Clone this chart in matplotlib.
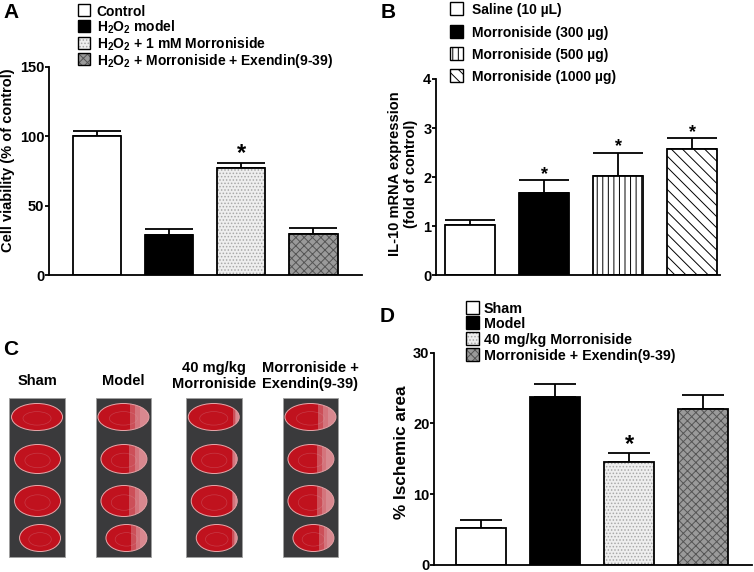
import numpy as np
import matplotlib
matplotlib.use('Agg')
import matplotlib.pyplot as plt
from matplotlib.patches import Rectangle, Ellipse

plt.rcParams['font.family'] = ['Liberation Sans', 'DejaVu Sans']
plt.rcParams['font.weight'] = 'bold'
plt.rcParams['mathtext.fontset'] = 'custom'
plt.rcParams['mathtext.bf'] = 'Liberation Sans:bold'
plt.rcParams['mathtext.rm'] = 'Liberation Sans:bold'
plt.rcParams['mathtext.default'] = 'bf'
plt.rcParams['hatch.linewidth'] = 0.7

# panel A - cell viability
a_labels = ['Control', 'H$_2$O$_2$ model', 'H$_2$O$_2$ + 1 mM Morroniside',
            'H$_2$O$_2$ + Morroniside + Exendin(9-39)']
a_means = [100, 29, 77, 29.5]
a_err = [3.7, 4.5, 4.0, 4.5]
a_stars = [False, False, True, False]
a_ticks = [0, 50, 100, 150]

# panel B - IL-10 mRNA
b_labels = ['Saline (10 µL)', 'Morroniside (300 µg)', 'Morroniside (500 µg)',
            'Morroniside (1000 µg)']
b_means = [1.03, 1.67, 2.03, 2.57]
b_err = [0.09, 0.27, 0.47, 0.22]
b_stars = [False, True, True, True]
b_ticks = [0, 1, 2, 3, 4]

# panel C - TTC slices
c_labels = ['Sham', 'Model', '40 mg/kg\nMorroniside', 'Morroniside +\nExendin(9-39)']
c_pale = [0.0, 0.38, 0.12, 0.36]   # pale (infarct) fraction of each slice, right side

# panel D - ischemic area
d_labels = ['Sham', 'Model', '40 mg/kg Morroniside', 'Morroniside + Exendin(9-39)']
d_means = [5.15, 23.7, 14.5, 22.1]
d_err = [1.15, 1.9, 1.3, 1.9]
d_stars = [False, False, True, False]
d_ticks = [0, 10, 20, 30]

W, H = 754, 572
LW = 1.3

# (face, hatch, hatch colour)
style_ad = [('white', None, 'white'), ('black', None, 'black'),
            ('#eeeeee', '.....', '#a8a8a8'), ('#9a9a9a', 'xxxx', '#555555')]
style_b = [('white', None, 'white'), ('black', None, 'black'),
           ('white', '|||', 'black'), ('white', '\\\\\\', 'black')]

fig = plt.figure(figsize=(W / 100, H / 100), dpi=100)


def px_axes(l, t, r, b):
    return fig.add_axes([l / W, 1 - b / H, (r - l) / W, (b - t) / H])


def bar_panel(ax, means, errs, stars, styles, width, cap, ticks, xlim, starsize):
    x = np.arange(len(means))
    for i in x:
        face, hatch, hc = styles[i]
        ax.bar(i, means[i], width, color=face, hatch=hatch, edgecolor=hc,
               linewidth=0, zorder=2)
        ax.bar(i, means[i], width, fill=False, edgecolor='black',
               linewidth=LW, zorder=3)
    ax.errorbar(x, means, yerr=[np.zeros(len(means)), errs], fmt='none',
                ecolor='black', elinewidth=LW, capsize=cap, capthick=LW, zorder=1)
    for i in x:
        if stars[i]:
            ax.annotate('*', (i, means[i] + errs[i]), xytext=(0, -2),
                        textcoords='offset points', ha='center', va='bottom',
                        fontsize=starsize, fontweight='bold')
    ax.set_xlim(*xlim)
    ax.set_ylim(ticks[0], ticks[-1])
    ax.set_yticks(ticks)
    ax.set_xticks([])
    for s in ['top', 'right']:
        ax.spines[s].set_visible(False)
    for s in ['left', 'bottom']:
        ax.spines[s].set_linewidth(LW)
    ax.tick_params(axis='y', direction='out', length=3, width=LW,
                   labelsize=10.5, pad=0.5)
    for lab in ax.get_yticklabels():
        lab.set_fontweight('bold')


def legend(labels, styles, x0, ys, box, tx, fs):
    for lab, st, y in zip(labels, styles, ys):
        face, hatch, hc = st
        fig.add_artist(Rectangle((x0 / W, 1 - (y + box / 2) / H), box / W, box / H,
                                 transform=fig.transFigure, facecolor=face,
                                 hatch=hatch, edgecolor=hc, linewidth=0))
        fig.add_artist(Rectangle((x0 / W, 1 - (y + box / 2) / H), box / W, box / H,
                                 transform=fig.transFigure, fill=False,
                                 edgecolor='black', linewidth=1.0))
        fig.text(tx / W, 1 - y / H, lab, fontsize=fs, fontweight='bold',
                 ha='left', va='center_baseline')


def ylab(x, y, s, fs, ls=1.2):
    fig.text(x / W, 1 - y / H, s, rotation=90, ha='center', va='center',
             fontsize=fs, fontweight='bold', linespacing=ls, multialignment='center')


# ---- A
axA = px_axes(49.3, 66.7, 361.7, 275.3)
bar_panel(axA, a_means, a_err, a_stars, style_ad, 0.67, 17, a_ticks,
          (-0.66, 3.67), 17)
ylab(8, 160, 'Cell viability (% of control)', 10.5)
legend(a_labels, style_ad, 77.7, [10, 25.5, 42.5, 59], 12, 96.5, 10)
fig.text(3 / W, 1 - 3 / H, 'A', fontsize=15, fontweight='bold', va='top')

# ---- B
axB = px_axes(436.3, 79, 720.3, 275.3)
bar_panel(axB, b_means, b_err, b_stars, style_b, 0.68, 18, b_ticks,
          (-0.46, 3.38), 13)
ylab(403, 174, 'IL-10 mRNA expression\n(fold of control)', 10.5, 1.12)
legend(b_labels, style_b, 450, [8.5, 31.5, 53.5, 75.5], 13, 472, 10)
fig.text(381 / W, 1 - 3 / H, 'B', fontsize=15, fontweight='bold', va='top')

# ---- D
axD = px_axes(434.3, 352.7, 752, 564.7)
bar_panel(axD, d_means, d_err, d_stars, style_ad, 0.68, 15, d_ticks,
          (-0.63, 3.66), 17)
ylab(401, 452, '% Ischemic area', 12.3)
legend(d_labels, style_ad, 466, [307.5, 322, 338.5, 354.5], 13, 484, 10.3)
fig.text(380 / W, 1 - 307 / H, 'D', fontsize=15, fontweight='bold', va='top')

# ---- C (photo panel drawn with patches, pixel coords)
axC = px_axes(0, 286, 377, 572)
axC.set_xlim(0, 377)
axC.set_ylim(572, 286)
axC.axis('off')
fig.text(3 / W, 1 - 340 / H, 'C', fontsize=15, fontweight='bold', va='top')

strip_left = [9.3, 95.7, 186, 282.7]
strip_w = 55.5
strip_top, strip_bot = 398.3, 556.7
# slice centre offset, centre y, width, height
slices = [(0.0, 417, 51, 27), (0.5, 459, 46, 29), (0.5, 501, 46, 31), (3.0, 538, 41, 27)]
red = '#c0121e'
pale = '#dc9aa0'
head_y = [381, 381, 376, 376]
for k, left in enumerate(strip_left):
    cx0 = left + strip_w / 2
    axC.add_patch(Rectangle((left, strip_top), strip_w, strip_bot - strip_top,
                            facecolor='#3a3a3c', edgecolor='#a0a0a0', linewidth=0.6))
    for dx, cy, w, h in slices:
        cx = cx0 + dx
        e = Ellipse((cx, cy), w, h, facecolor=red, edgecolor='#e7a7aa',
                    linewidth=0.7)
        axC.add_patch(e)
        # faint white-matter arc
        arc = Ellipse((cx, cy + h * 0.05), w * 0.55, h * 0.5, facecolor='none',
                      edgecolor='#c83a46', linewidth=0.5)
        axC.add_patch(arc)
        arc.set_clip_path(e)
        if c_pale[k] > 0:
            pw = c_pale[k] * w
            for f, a in [(1.0, 0.45), (0.7, 0.5), (0.45, 0.55)]:
                r = Rectangle((cx + w / 2 - pw * f, cy - h / 2), pw * f, h,
                              facecolor=pale, edgecolor='none', alpha=a)
                axC.add_patch(r)
                r.set_clip_path(e)
    axC.text(cx0, head_y[k], c_labels[k], ha='center', va='center',
             fontsize=10.5, fontweight='bold', linespacing=1.15)

fig.savefig('out.png', dpi=100)
